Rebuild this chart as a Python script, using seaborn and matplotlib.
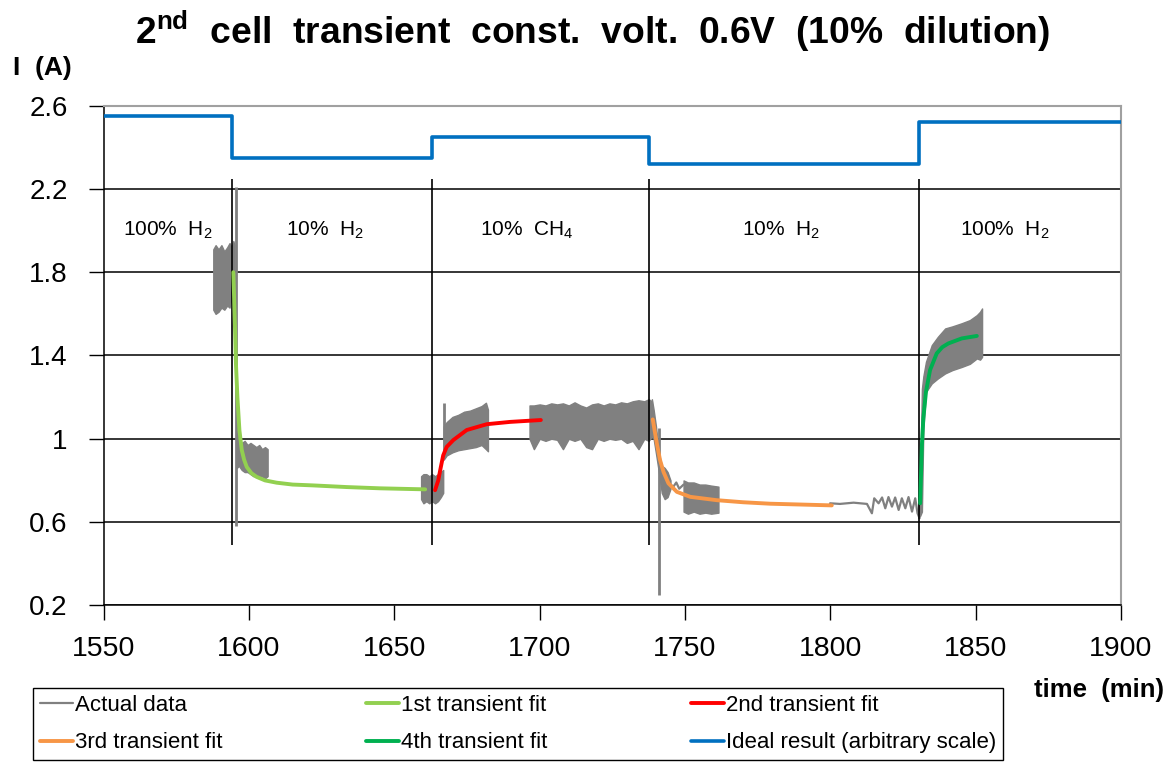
import matplotlib
matplotlib.use("Agg")
import matplotlib.pyplot as plt
import seaborn as sns

# ---------------- data ----------------
# switching times between gas feeds (min)
switch_times = [1594.0, 1663.0, 1737.6, 1830.6]

# ideal (step) response, arbitrary scale
ideal_t = [1550, 1594.0, 1663.0, 1737.6, 1830.6, 1900]
ideal_v = [2.55, 2.35, 2.45, 2.32, 2.52, 2.52]

# measured current: noisy blocks given as (time, lower envelope, upper envelope)
blkA_t = [1587.7, 1588.5, 1589.5, 1590.5, 1591.5, 1592.5, 1593.3, 1594.0, 1594.6, 1595.0]
blkA_hi = [1.91, 1.93, 1.91, 1.93, 1.90, 1.92, 1.94, 1.92, 1.95, 1.93]
blkA_lo = [1.62, 1.60, 1.61, 1.63, 1.62, 1.64, 1.63, 1.68, 1.66, 1.63]

blkB_t = [1595.8, 1596.5, 1597.5, 1598.5, 1599.5, 1600.5, 1601.5, 1602.5, 1603.5, 1604.5, 1605.5, 1606.4]
blkB_hi = [1.08, 0.99, 0.98, 0.99, 0.97, 0.98, 0.97, 0.96, 0.97, 0.95, 0.96, 0.95]
blkB_lo = [0.86, 0.87, 0.85, 0.84, 0.84, 0.83, 0.82, 0.82, 0.81, 0.82, 0.81, 0.82]

blkC_t = [1659.2, 1660, 1661, 1662, 1663, 1664, 1665, 1666, 1666.8]
blkC_hi = [0.82, 0.83, 0.83, 0.82, 0.83, 0.82, 0.83, 0.84, 0.85]
blkC_lo = [0.71, 0.69, 0.70, 0.69, 0.70, 0.69, 0.70, 0.72, 0.74]

blkD_t = [1667.0, 1668, 1670, 1672, 1674, 1676, 1678, 1680, 1681.5, 1682.2]
blkD_hi = [1.06, 1.08, 1.105, 1.115, 1.13, 1.135, 1.146, 1.157, 1.173, 1.14]
blkD_lo = [0.90, 0.92, 0.935, 0.945, 0.95, 0.955, 0.96, 0.97, 0.95, 0.94]

blkE_t = [1696.5, 1698, 1700, 1702, 1704, 1706, 1708, 1710, 1712, 1714, 1716, 1718,
          1720, 1722, 1724, 1726, 1728, 1730, 1732, 1734, 1736, 1737.5, 1738.6]
blkE_hi = [1.16, 1.16, 1.165, 1.16, 1.17, 1.165, 1.17, 1.16, 1.175, 1.16, 1.15, 1.165,
           1.17, 1.16, 1.17, 1.165, 1.175, 1.17, 1.18, 1.185, 1.18, 1.19, 1.18]
blkE_lo = [1.00, 0.95, 1.00, 0.99, 1.00, 0.995, 0.95, 1.00, 0.99, 1.00, 0.96, 0.95,
           1.00, 0.99, 1.00, 0.995, 1.00, 0.98, 0.99, 0.95, 1.00, 0.99, 1.01]

blkF_t = [1738.6, 1739.2, 1740.0, 1741.0, 1742.0, 1743.0, 1744.0, 1745.0]
blkF_hi = [1.19, 1.14, 1.06, 0.93, 0.87, 0.86, 0.84, 0.80]
blkF_lo = [1.01, 1.00, 0.93, 0.84, 0.74, 0.71, 0.72, 0.76]

blkG_t = [1749.5, 1751, 1753, 1755, 1757, 1759, 1761.5]
blkG_hi = [0.80, 0.79, 0.79, 0.78, 0.78, 0.775, 0.77]
blkG_lo = [0.65, 0.64, 0.65, 0.64, 0.645, 0.64, 0.645]

blkH_t = [1830.3, 1830.9, 1831.5, 1832.0, 1832.9, 1834.9, 1837, 1839.5, 1842, 1845.2,
          1848, 1850.4, 1851.5, 1852.2]
blkH_hi = [0.72, 0.80, 1.24, 1.30, 1.37, 1.45, 1.49, 1.53, 1.54, 1.555, 1.57, 1.594, 1.61, 1.626]
blkH_lo = [0.62, 0.63, 0.65, 1.05, 1.225, 1.266, 1.29, 1.314, 1.33, 1.345, 1.36, 1.386, 1.38, 1.393]

# measured current: sparse (single-trace) stretches
traceA_t = [1745.0, 1746, 1747, 1748, 1749.5]
traceA_v = [0.78, 0.77, 0.79, 0.76, 0.78]

traceB_t = [1799.9, 1803.3, 1808.0, 1812.6, 1814.3, 1815.1, 1816.6, 1817.8, 1818.9, 1820.0,
            1821.2, 1822.3, 1823.5, 1824.6, 1825.8, 1826.9, 1828.1, 1829.2, 1830.0, 1830.7]
traceB_v = [0.69, 0.687, 0.693, 0.687, 0.642, 0.714, 0.69, 0.718, 0.666, 0.72,
            0.674, 0.718, 0.658, 0.714, 0.666, 0.72, 0.65, 0.714, 0.642, 0.618]

# single-sample spikes in the measurement (time, low, high)
spike_t = [1595.5, 1667.0, 1741.1]
spike_lo = [0.58, 0.92, 0.25]
spike_hi = [2.21, 1.17, 1.05]

# transient fits
fit1_t = [1594.6, 1595.2, 1595.5, 1596.0, 1596.7, 1597.5, 1598.3, 1599.2, 1600.8, 1602.6,
          1605.5, 1609.5, 1615, 1622, 1633.6, 1645, 1660.6]
fit1_v = [1.80, 1.52, 1.36, 1.20, 1.04, 0.946, 0.90, 0.865, 0.835, 0.817,
          0.80, 0.789, 0.78, 0.776, 0.768, 0.762, 0.757]

fit2_t = [1664.0, 1665.1, 1666.0, 1666.8, 1668.0, 1670.3, 1674.9, 1681.8, 1689.8, 1700.4]
fit2_v = [0.753, 0.80, 0.865, 0.92, 0.961, 0.994, 1.042, 1.07, 1.081, 1.09]

fit3_t = [1738.9, 1740.3, 1741.4, 1742.6, 1744.3, 1747.2, 1751.8, 1760.9, 1770, 1779.3, 1790, 1800.5]
fit3_v = [1.093, 0.978, 0.898, 0.841, 0.786, 0.745, 0.721, 0.705, 0.695, 0.688, 0.684, 0.68]

fit4_t = [1830.9, 1831.5, 1832.0, 1832.9, 1834.3, 1836.6, 1838.5, 1840.6, 1845.2, 1850.4]
fit4_v = [0.69, 0.97, 1.098, 1.225, 1.33, 1.41, 1.44, 1.458, 1.482, 1.494]

# feed labels and their centre times
feed_labels = ["100%  H$_2$", "10%  H$_2$", "10%  CH$_4$", "10%  H$_2$", "100%  H$_2$"]
feed_label_t = [1572, 1626, 1695.5, 1783, 1860]
feed_label_v = 2.0

x_ticks = [1550, 1600, 1650, 1700, 1750, 1800, 1850, 1900]
y_ticks = [0.2, 0.6, 1.0, 1.4, 1.8, 2.2, 2.6]

# ---------------- style ----------------
sns.set_theme(style="ticks")
plt.rcParams["font.family"] = ["Liberation Sans", "DejaVu Sans"]
plt.rcParams["mathtext.fontset"] = "custom"
plt.rcParams["mathtext.rm"] = "Liberation Sans"
plt.rcParams["mathtext.it"] = "Liberation Sans:italic"
plt.rcParams["mathtext.bf"] = "Liberation Sans:bold"
for key in ("text.color", "axes.labelcolor", "xtick.color", "ytick.color",
            "xtick.labelcolor", "ytick.labelcolor"):
    plt.rcParams[key] = "black"

GRAY = "#808080"
C_FIT1 = "#92D050"
C_FIT2 = "#FF0000"
C_FIT3 = "#F79646"
C_FIT4 = "#00B050"
C_IDEAL = "#0070C0"

W, H = 1172, 762
fig = plt.figure(figsize=(W / 100, H / 100), dpi=100)
ax = fig.add_axes([103.7 / W, 1 - 605.3 / H, (1121 - 103.7) / W, (605.3 - 105.7) / H])

# noisy measurement blocks
blocks = [
    (blkA_t, blkA_lo, blkA_hi), (blkB_t, blkB_lo, blkB_hi), (blkC_t, blkC_lo, blkC_hi),
    (blkD_t, blkD_lo, blkD_hi), (blkE_t, blkE_lo, blkE_hi), (blkF_t, blkF_lo, blkF_hi),
    (blkG_t, blkG_lo, blkG_hi), (blkH_t, blkH_lo, blkH_hi),
]
for bt, blo, bhi in blocks:
    ax.fill_between(bt, blo, bhi, color=GRAY, lw=1.0, edgecolor=GRAY, zorder=2)

sns.lineplot(x=traceA_t, y=traceA_v, ax=ax, color=GRAY, lw=1.6, zorder=2,
             estimator=None, sort=False)
sns.lineplot(x=traceB_t, y=traceB_v, ax=ax, color=GRAY, lw=1.6, zorder=2,
             estimator=None, sort=False, label="Actual data")
ax.vlines(spike_t, spike_lo, spike_hi, color=GRAY, lw=2.0, zorder=2)

# switching markers
ax.vlines(switch_times, 0.49, 2.25, color="black", lw=1.2, zorder=3)

# fits
sns.lineplot(x=fit1_t, y=fit1_v, ax=ax, color=C_FIT1, lw=2.8, zorder=4,
             estimator=None, sort=False, label="1st transient fit")
sns.lineplot(x=fit2_t, y=fit2_v, ax=ax, color=C_FIT2, lw=2.8, zorder=4,
             estimator=None, sort=False, label="2nd transient fit")
sns.lineplot(x=fit3_t, y=fit3_v, ax=ax, color=C_FIT3, lw=2.8, zorder=4,
             estimator=None, sort=False, label="3rd transient fit")
sns.lineplot(x=fit4_t, y=fit4_v, ax=ax, color=C_FIT4, lw=2.8, zorder=4,
             estimator=None, sort=False, label="4th transient fit")

# ideal step response
sns.lineplot(x=ideal_t, y=ideal_v, ax=ax, color=C_IDEAL, lw=2.6, zorder=4,
             estimator=None, sort=False, drawstyle="steps-post",
             label="Ideal result (arbitrary scale)")

# feed labels
for lab, lt in zip(feed_labels, feed_label_t):
    ax.text(lt, feed_label_v, lab, ha="center", va="center", fontsize=15, color="black")

# axes
ax.set_xlim(x_ticks[0], x_ticks[-1])
ax.set_ylim(y_ticks[0], y_ticks[-1])
ax.set_xticks(x_ticks)
ax.set_yticks(y_ticks)
ax.set_yticklabels([f"{v:g}" for v in y_ticks])
ax.set_xlabel("")
ax.set_ylabel("")
ax.tick_params(axis="x", length=11, width=1, color="black", labelsize=20.5, pad=11)
ax.tick_params(axis="y", length=11, width=1, color="black", labelsize=20, pad=15)
ax.yaxis.grid(True, color="black", lw=1.1)
ax.set_axisbelow(True)
for s in ("left", "bottom"):
    ax.spines[s].set_color("black")
    ax.spines[s].set_linewidth(1.1)
for s in ("top", "right"):
    ax.spines[s].set_color("#A0A0A0")
    ax.spines[s].set_linewidth(1.5)
    ax.spines[s].set_visible(True)

# titles
fig.text(0.506, 1 - 31 / H,
         r"2$^{\mathbf{nd}}$  cell  transient  const.  volt.  0.6V  (10%  dilution)",
         ha="center", va="center", fontsize=26.8, fontweight="bold")
fig.text(13 / W, 1 - 68 / H, "I  (A)", ha="left", va="center", fontsize=19, fontweight="bold")
fig.text(1099 / W, 1 - 690 / H, "time  (min)", ha="center", va="center",
         fontsize=18.5, fontweight="bold")

# legend (row-major order across three columns)
handles, labels = ax.get_legend_handles_labels()
ax.get_legend().remove()
order = [0, 3, 1, 4, 2, 5]
leg = fig.legend([handles[i] for i in order], [labels[i] for i in order],
                 ncol=3, loc="lower left", mode="expand",
                 bbox_to_anchor=(33 / W, 2 / H, 970 / W, 76 / H), borderaxespad=0,
                 fontsize=16, handlelength=1.5, handletextpad=0.1,
                 labelspacing=0.75, borderpad=0.3, frameon=True, fancybox=False,
                 framealpha=1)
leg.get_frame().set_edgecolor("black")
leg.get_frame().set_linewidth(1.0)

fig.savefig("out.png", dpi=100)
